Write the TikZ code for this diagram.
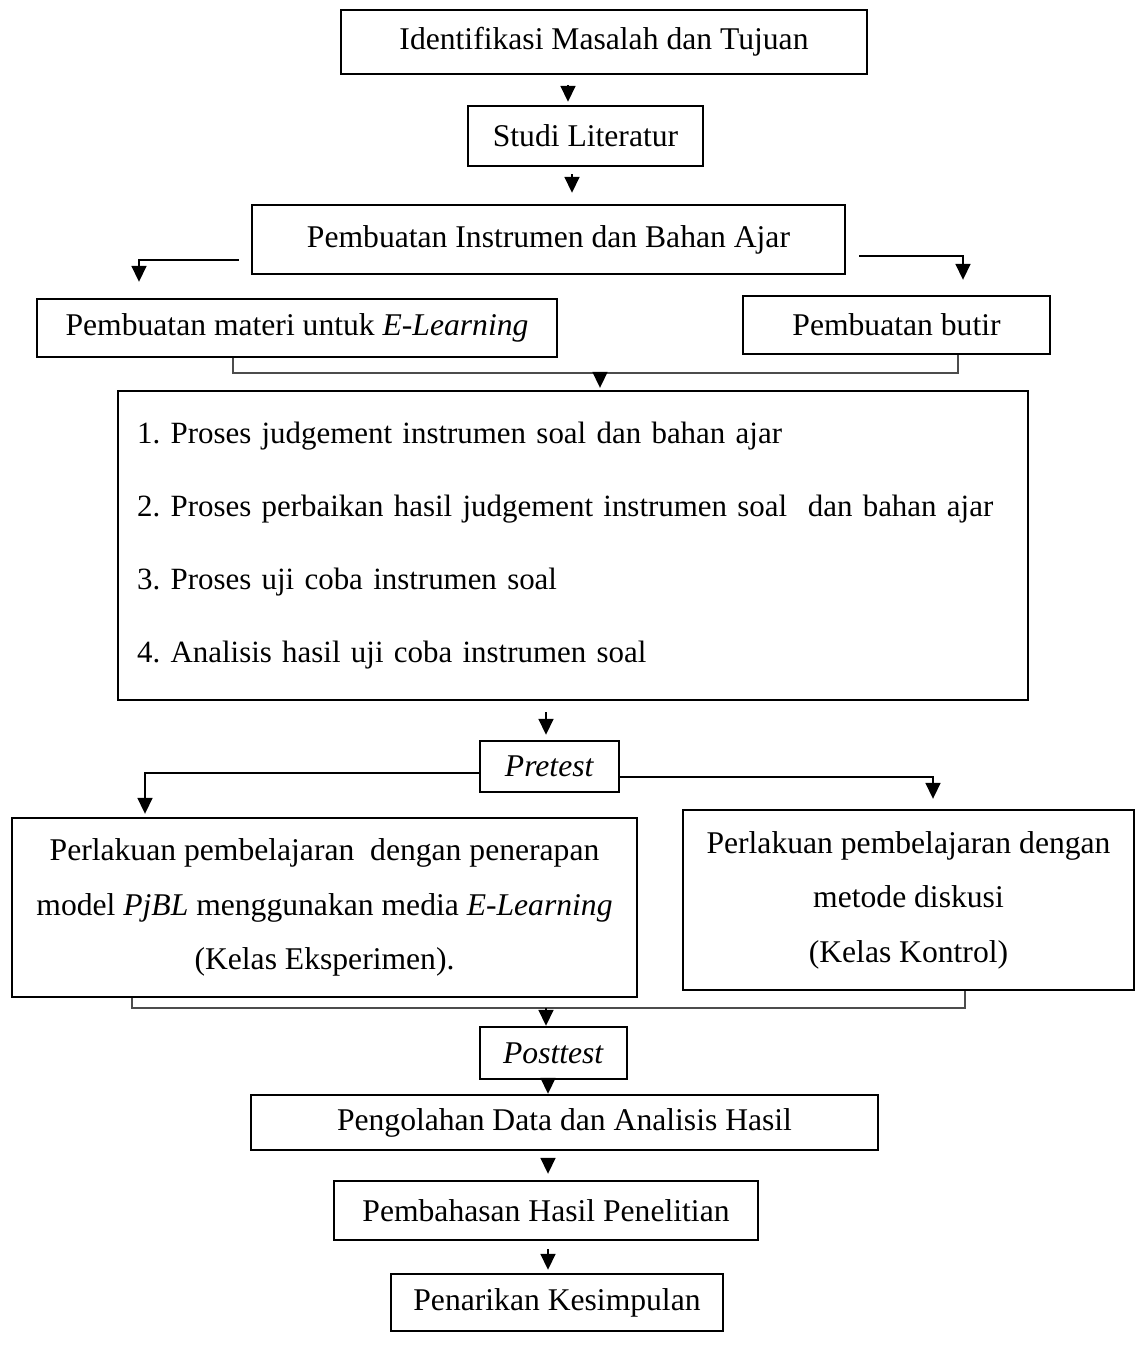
\documentclass[tikz,border=0pt]{standalone}
\usepackage{fontspec}
\setmainfont{Liberation Serif}
\usetikzlibrary{arrows.meta}

\begin{document}
\begin{tikzpicture}[x=0.02cm,y=-0.02cm]
	\tikzstyle{kotak}=[draw=black,line width=1.4pt,inner sep=0pt,font=\fontsize{18}{22}\selectfont]
	\tikzstyle{panah}=[line width=0.8pt,-{Triangle[length=9pt,width=8.5pt]}]
	\tikzstyle{garis}=[line width=0.6pt,draw=black!70]
	\useasboundingbox (0,0) rectangle (1136,1357);
	\node[kotak,minimum width=10.52cm,minimum height=1.28cm] (A-identifikasi) at (604,42) {Identifikasi Masalah dan Tujuan};
	\node[kotak,minimum width=4.7cm,minimum height=1.2cm] (B-studi) at (585.5,136) {Studi Literatur};
	\node[kotak,minimum width=11.86cm,minimum height=1.38cm] (C-instrumen) at (548.5,239.5) {Pembuatan Instrumen dan Bahan Ajar};
	\node[kotak,minimum width=10.4cm,minimum height=1.16cm] (D-materi) at (297,328) {Pembuatan materi untuk \textit{E-Learning}};
	\node[kotak,minimum width=6.14cm,minimum height=1.16cm] (E-butir) at (896.5,325) {Pembuatan butir};
	\node[kotak,minimum width=18.2cm,minimum height=6.18cm,text width=17.44cm,inner xsep=0.38cm,align=left,font=\fontsize{17.6}{41.4}\selectfont] (F-proses) at (573,545.5)
		{1.\ Proses judgement instrumen soal dan bahan ajar\\
		2.\ Proses perbaikan hasil judgement instrumen soal\ \ dan bahan ajar\\
		3.\ Proses uji coba instrumen soal\\
		4.\ Analisis hasil uji coba instrumen soal};
	\node[kotak,minimum width=2.78cm,minimum height=1.02cm] (G-pretest) at (549.5,766.5) {\textit{Pretest}};
	\node[kotak,minimum width=12.5cm,minimum height=3.58cm,align=center,font=\fontsize{18}{31}\selectfont] (H-eksperimen) at (324.5,907.5)
		{Perlakuan pembelajaran\ \ dengan penerapan\\
		model \textit{PjBL} menggunakan media \textit{E-Learning}\\
		(Kelas Eksperimen).};
	\node[kotak,minimum width=9.02cm,minimum height=3.6cm,align=center,font=\fontsize{18}{31}\selectfont] (I-kontrol) at (908.5,900)
		{Perlakuan pembelajaran dengan\\
		metode diskusi\\
		(Kelas Kontrol)};
	\node[kotak,minimum width=2.94cm,minimum height=1.04cm] (J-posttest) at (553.5,1053) {\textit{Posttest}};
	\node[kotak,minimum width=12.54cm,minimum height=1.1cm] (K-pengolahan) at (564.5,1122.5) {Pengolahan Data dan Analisis Hasil};
	\node[kotak,minimum width=8.48cm,minimum height=1.18cm] (L-pembahasan) at (546,1210.5) {Pembahasan Hasil Penelitian};
	\node[kotak,minimum width=6.64cm,minimum height=1.14cm] (M-kesimpulan) at (557,1302.5) {Penarikan Kesimpulan};
	\coordinate (G-atas) at (600,373);
	\coordinate (G-bawah) at (546,1008);
	% alur utama
	\draw[panah,shorten <=0.2cm,shorten >=0.06cm] (568,0 |- A-identifikasi.south) -- (568,0 |- B-studi.north);
	\draw[panah,shorten <=0.14cm,shorten >=0.22cm] (572,0 |- B-studi.south) -- (572,0 |- C-instrumen.north);
	\draw[panah,shorten <=0.24cm,shorten >=0.32cm] ([yshift=-0.41cm]C-instrumen.west) -| (139,0 |- D-materi.north);
	\draw[panah,shorten <=0.26cm,shorten >=0.3cm] ([yshift=-0.33cm]C-instrumen.east) -| (963,0 |- E-butir.north);
	\draw[garis] (233,0 |- D-materi.south) |- (G-atas) -| (958,0 |- E-butir.south);
	\draw[panah,shorten >=0.04cm] (G-atas) -- (600,0 |- F-proses.north);
	\draw[panah,shorten <=0.22cm,shorten >=0.1cm] (546,0 |- F-proses.south) -- (546,0 |- G-pretest.north);
	\draw[panah,shorten >=0.06cm] ([yshift=-0.13cm]G-pretest.west) -| (145,0 |- H-eksperimen.north);
	\draw[panah,shorten >=0.2cm] ([yshift=-0.21cm]G-pretest.east) -| (933,0 |- I-kontrol.north);
	\draw[garis] (132,0 |- H-eksperimen.south) |- (G-bawah) -| (965,0 |- I-kontrol.south);
	\draw[panah] (G-bawah) -- (546,0 |- J-posttest.north);
	\draw[panah] (548,0 |- J-posttest.south) -- (548,0 |- K-pengolahan.north);
	\draw[panah,shorten <=0.14cm,shorten >=0.12cm] (548,0 |- K-pengolahan.south) -- (548,0 |- L-pembahasan.north);
	\draw[panah,shorten <=0.16cm,shorten >=0.06cm] (548,0 |- L-pembahasan.south) -- (548,0 |- M-kesimpulan.north);
\end{tikzpicture}
\end{document}
